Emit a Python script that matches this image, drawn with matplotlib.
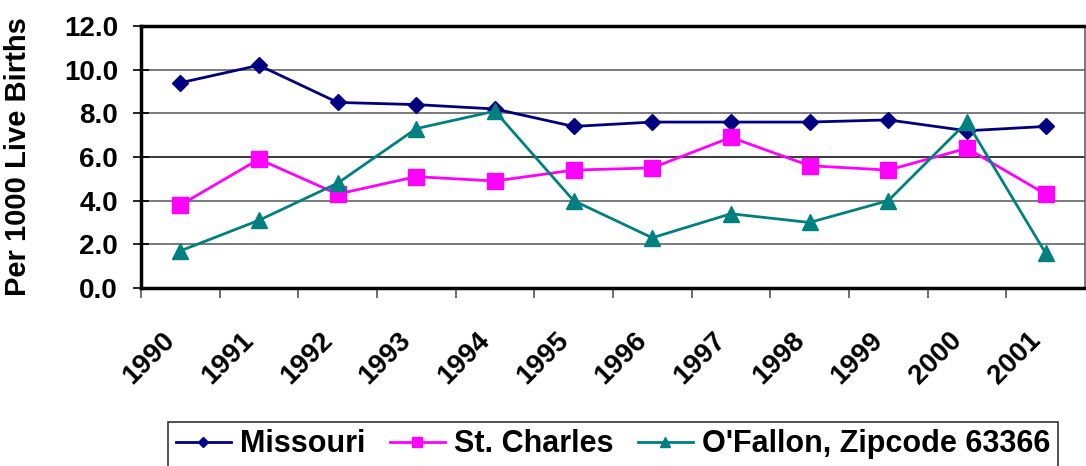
import matplotlib.pyplot as plt
import matplotlib.transforms as mtransforms
import numpy as np

plt.rcParams['font.family'] = ['Liberation Sans', 'DejaVu Sans']
plt.rcParams['font.weight'] = 'bold'

years = ['1990', '1991', '1992', '1993', '1994', '1995',
         '1996', '1997', '1998', '1999', '2000', '2001']
missouri = [9.4, 10.2, 8.5, 8.4, 8.2, 7.4, 7.6, 7.6, 7.6, 7.7, 7.2, 7.4]
st_charles = [3.8, 5.9, 4.3, 5.1, 4.9, 5.4, 5.5, 6.9, 5.6, 5.4, 6.4, 4.3]
ofallon = [1.7, 3.1, 4.8, 7.3, 8.1, 4.0, 2.3, 3.4, 3.0, 4.0, 7.6, 1.6]


def infant_mortality_plot():
    fig = plt.figure(figsize=(10.86, 4.66), dpi=100)
    ax = fig.add_axes([0.1298, 0.382, 0.8692, 0.5622])

    x = np.arange(len(years))
    for yv in [2, 4, 8, 10]:
        ax.axhline(yv, color='#707070', lw=1.3, zorder=0)
    ax.axhline(6, color='black', lw=1.1, zorder=0)

    ax.plot(x, missouri, marker='D', ms=8, color='#000080', lw=2,
            label='Missouri')
    ax.plot(x, st_charles, marker='s', ms=11, color='#FF00FF', lw=2,
            label='St. Charles')
    ax.plot(x, ofallon, marker='^', ms=11, color='#008080', lw=2,
            label="O'Fallon, Zipcode 63366")

    ax.set_xlim(-0.5, len(years) - 0.5)
    ax.set_ylim(0, 12)
    ax.set_yticks(np.arange(0, 13, 2))
    ax.set_yticklabels(['%.1f' % v for v in np.arange(0, 13, 2)],
                       fontsize=20, fontweight='bold')
    ax.set_xticks(np.arange(-0.5, len(years) - 1, 1))
    ax.set_xticklabels([])
    ax.set_xticks(x, minor=True)
    ax.set_xticklabels(years, minor=True, rotation=45, ha='right',
                       fontsize=20, fontweight='bold')
    shift = mtransforms.ScaledTranslation(-0.12, 0, fig.dpi_scale_trans)
    for lab in ax.get_xticklabels(minor=True):
        lab.set_transform(lab.get_transform() + shift)
    ax.tick_params(axis='x', which='minor', length=0, pad=28)
    ax.tick_params(axis='x', which='major', length=7, width=1.2,
                   direction='out', color='#555555')
    ax.tick_params(axis='y', length=11, width=1.2, direction='inout',
                   pad=11)

    for s in ['left', 'bottom', 'top']:
        ax.spines[s].set_linewidth(2.5)
    ax.spines['right'].set_color('#606060')
    ax.spines['right'].set_linewidth(1.2)

    ax.set_ylabel('Per 1000 Live Births', fontsize=21, fontweight='bold')
    ax.yaxis.set_label_coords(-0.115, 0.5)

    leg = ax.legend(loc='upper center', bbox_to_anchor=(0.5, -0.51),
                    ncol=3, fontsize=22, frameon=True, fancybox=False,
                    edgecolor='black', handlelength=1.8, columnspacing=0.8,
                    handletextpad=0.3, borderpad=0.25, borderaxespad=0,
                    markerscale=0.7)
    leg.get_frame().set_linewidth(1.2)

    fig.savefig('out.png', dpi=100)


infant_mortality_plot()
